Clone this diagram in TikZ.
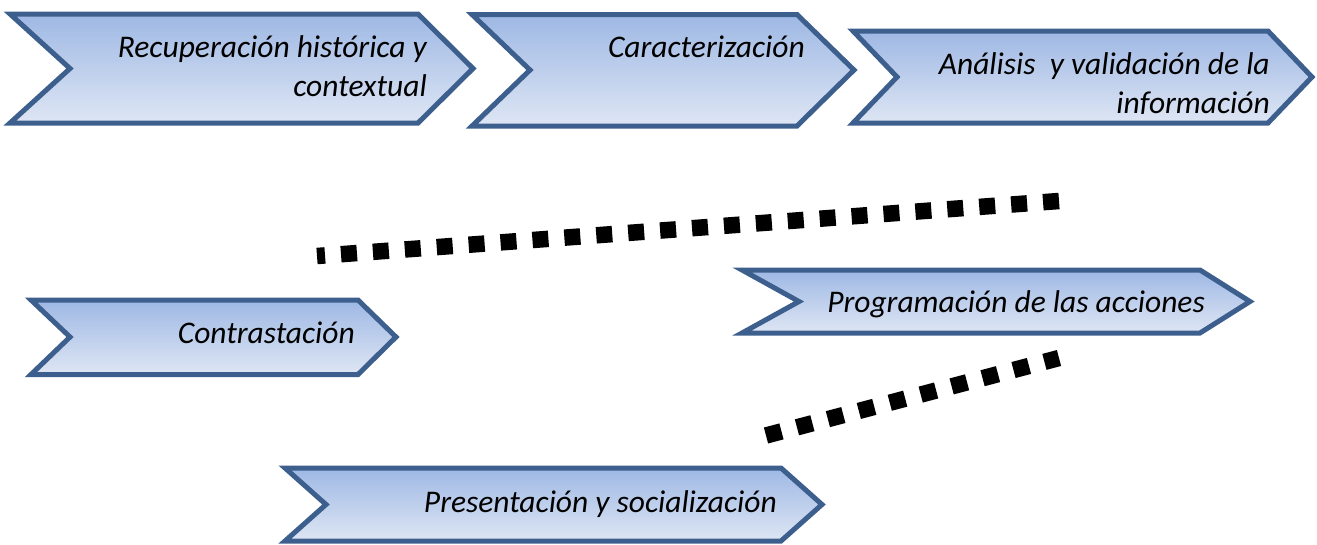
\documentclass[tikz,border=0pt]{standalone}
\usepackage{fontspec}
\setmainfont{Carlito}
\definecolor{chevline}{RGB}{61,95,142}
\definecolor{chevtop}{RGB}{158,184,228}
\definecolor{chevbot}{RGB}{222,230,244}
\tikzset{
  chev/.style={draw=chevline, line width=5pt, line join=miter, top color=chevtop, bottom color=chevbot},
  lbl/.style={font=\fontsize{31.5pt}{39.5pt}\selectfont\itshape, inner sep=0pt, anchor=base east, align=right},
  sqdots/.style={line width=16.5pt, dash pattern=on 16pt off 16pt, line cap=butt, black}
}
\begin{document}
\begin{tikzpicture}[x=1pt,y=-1pt]
\useasboundingbox (0,0) rectangle (1317,544);
% chevrons
\path[chev] (10,14) -- (418,14) -- (473,68.5) -- (418,123) -- (10,123) -- (70,68.5) -- cycle;
\path[chev] (472,14.5) -- (797,14.5) -- (854,70) -- (797,126) -- (472,126) -- (530,70) -- cycle;
\path[chev] (853,31) -- (1268,31) -- (1312,77) -- (1268,123) -- (853,123) -- (897,77) -- cycle;
\path[chev] (31,300) -- (358,300) -- (396,337) -- (358,374.5) -- (31,374.5) -- (70,337) -- cycle;
\path[chev] (742,270) -- (1200,270) -- (1250,301.5) -- (1200,333) -- (742,333) -- (799,301.5) -- cycle;
\path[chev] (285,468) -- (781,468) -- (822,504.5) -- (781,541) -- (285,541) -- (326,504.5) -- cycle;
% labels
\node[lbl] (t1) at (427,96.5) {Recuperación histórica y\\contextual};
\node[lbl] (t2) at (805,57) {Caracterización};
\begin{scope}
\clip (840,20) rectangle (1317,113.5);
\node[lbl] (t3) at (1270,113.5) {Análisis\ \ y validación de la\\información};
\end{scope}
\node[lbl] (t4) at (355,343) {Contrastación};
\node[lbl] (t5) at (1205,312) {Programación de las acciones};
\node[lbl] (t6) at (777,512) {Presentación y socialización};
% dotted lines
\coordinate (a1) at (1059,201);
\coordinate (a2) at (317,256);
\coordinate (b1) at (766,435.5);
\coordinate (b2) at (1059,358);
\draw[sqdots] (a1) -- (a2);
\draw[sqdots] (b1) -- (b2);
\end{tikzpicture}
\end{document}
